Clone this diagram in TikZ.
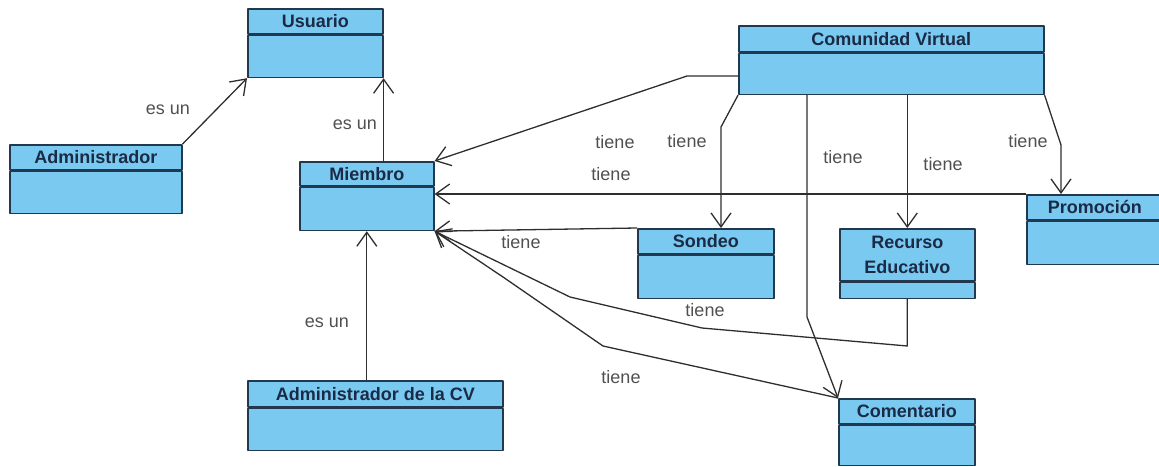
\documentclass[tikz,border=0pt]{standalone}
\usepackage{fontspec}
\setmainfont{Liberation Sans}
\usepackage{tikz}
\usetikzlibrary{arrows.meta, positioning}

\definecolor{azulclase}{RGB}{121,201,241}
\definecolor{bordeclase}{RGB}{34,56,79}
\definecolor{textoclase}{RGB}{28,43,69}
\definecolor{textoetiq}{RGB}{80,80,80}
\definecolor{linea}{RGB}{46,46,46}

\begin{document}
\begin{tikzpicture}[x=1pt,y=-1pt,>={Straight Barb[length=14pt,width=20pt]},line join=round]
		\tikzstyle{cabecera}=[draw=bordeclase,fill=azulclase,line width=1.6pt,inner sep=2pt,anchor=north west,
			text=textoclase,font=\fontsize{18}{25}\selectfont\bfseries,align=center]
		\tikzstyle{cuerpo}=[draw=bordeclase,fill=azulclase,line width=1.6pt,inner sep=0pt]
		\tikzstyle{rel}=[->,draw=linea,line width=1.3pt]
		\tikzstyle{etiq}=[anchor=base,text=textoetiq,font=\fontsize{18}{22}\selectfont,inner sep=0pt]

		\useasboundingbox (0,0) rectangle (1159,466);

		\node[cabecera,minimum width=135,minimum height=25] (usu) at (247,8) {Usuario};
		\node[cuerpo,minimum width=135,minimum height=42,below=0pt of usu] (usu-c) {};
		\node[cabecera,minimum width=172,minimum height=25] (adm) at (9,144) {Administrador};
		\node[cuerpo,minimum width=172,minimum height=42,below=0pt of adm] (adm-c) {};
		\node[cabecera,minimum width=134,minimum height=24] (mie) at (299,161) {Miembro};
		\node[cuerpo,minimum width=134,minimum height=43,below=0pt of mie] (mie-c) {};
		\node[cabecera,minimum width=305,minimum height=26] (cv) at (738,25) {Comunidad Virtual};
		\node[cuerpo,minimum width=305,minimum height=41,below=0pt of cv] (cv-c) {};
		\node[cabecera,minimum width=136,minimum height=25] (son) at (637,228) {Sondeo};
		\node[cuerpo,minimum width=136,minimum height=43,below=0pt of son] (son-c) {};
		\node[cabecera,minimum width=135,minimum height=52] (rec) at (839,228) {Recurso\\Educativo};
		\node[cuerpo,minimum width=135,minimum height=16,below=0pt of rec] (rec-c) {};
		\node[cabecera,minimum width=136,minimum height=25] (promo) at (1026,194) {Promoción};
		\node[cuerpo,minimum width=136,minimum height=43,below=0pt of promo] (promo-c) {};
		\node[cabecera,minimum width=136,minimum height=25] (com) at (838,398) {Comentario};
		\node[cuerpo,minimum width=136,minimum height=40,below=0pt of com] (com-c) {};
		\node[cabecera,minimum width=255,minimum height=26] (admcv) at (247,380) {Administrador de la CV};
		\node[cuerpo,minimum width=255,minimum height=42,below=0pt of admcv] (admcv-c) {};

		% es un
		\draw[rel] (adm.north east) -- (usu-c.south west);
		\draw[rel] (mie.north -| usu-c.south east) -- (usu-c.south east);
		\draw[rel] (admcv.north -| mie-c.south) -- (mie-c.south);

		% tiene
		\draw[rel] (cv-c.west |- 0,76) -- (687,76) -- (mie.north east);
		\draw[rel] (promo.north west) -- (promo.north west -| mie.east);
		\draw[rel] (cv-c.south west) -- (721,127) -- (son.north -| 721,0);
		\draw[rel] (rec.north |- cv-c.south) -- (rec.north);
		\draw[rel] (cv-c.south east) -- (1061,145) -- (promo.north -| 1061,0);
		\draw[rel] (cv-c.south -| 807,0) -- (807,317) -- (com.north west);
		\draw[rel] (son.north west) -- (mie-c.south east);
		\draw[rel] (rec-c.south) -- (rec-c.south |- 0,346) -- (702,328) -- (570,297) -- (mie-c.south east);
		\draw[rel] (com.north west) -- (603,346) -- (503,277) -- (mie-c.south east);

		\node[etiq] (e1) at (168,114) {es un};
		\node[etiq] (e2) at (355,129) {es un};
		\node[etiq] (e3) at (327,327) {es un};
		\node[etiq] (t1) at (615,148) {tiene};
		\node[etiq] (t2) at (611,180) {tiene};
		\node[etiq] (t3) at (687,147) {tiene};
		\node[etiq] (t4) at (843,163) {tiene};
		\node[etiq] (t5) at (943,170) {tiene};
		\node[etiq] (t6) at (1028,147) {tiene};
		\node[etiq] (t7) at (521,248) {tiene};
		\node[etiq] (t8) at (705,316) {tiene};
		\node[etiq] (t9) at (621,383) {tiene};
	\end{tikzpicture}
\end{document}
